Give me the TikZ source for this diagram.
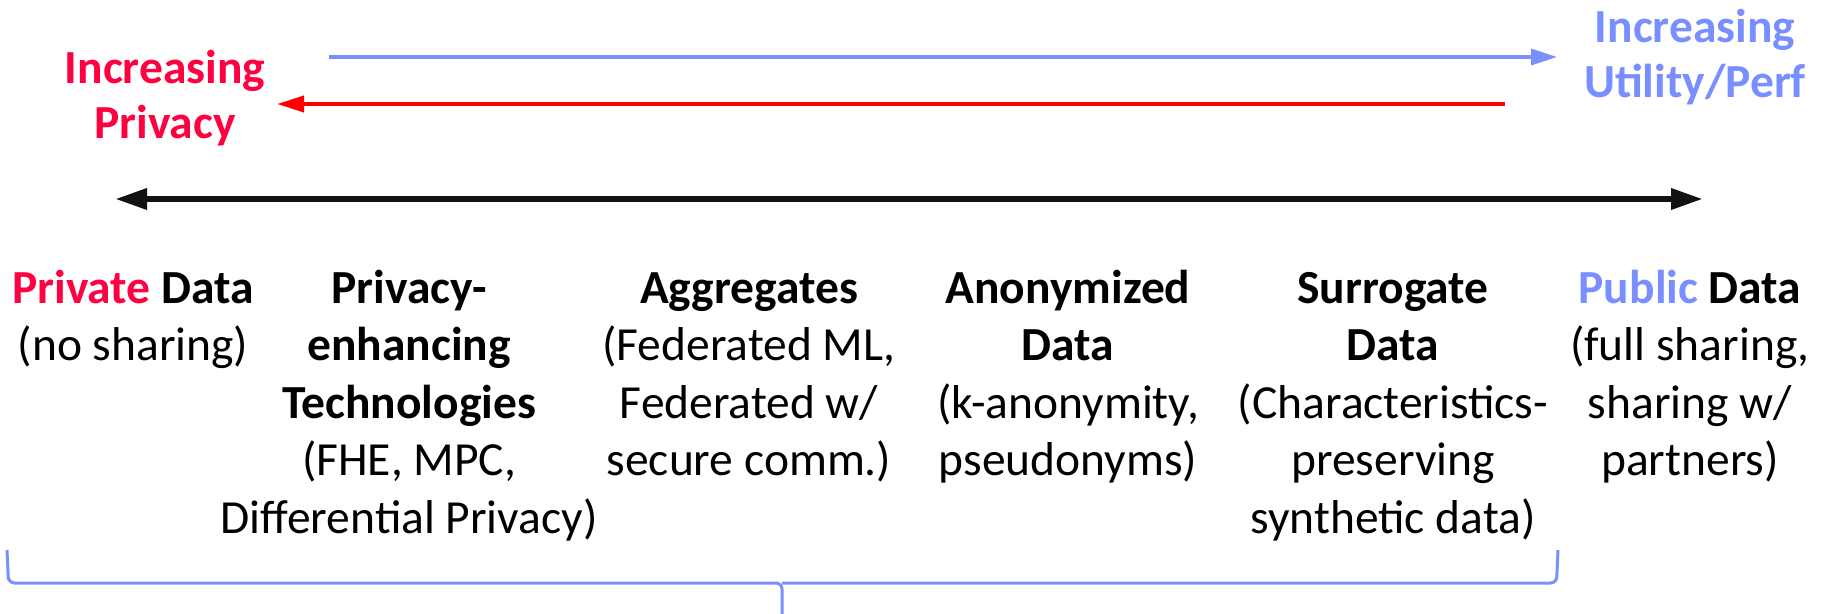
\documentclass[tikz,border=0pt]{standalone}
\usepackage{fontspec}
\setmainfont{Carlito}
\usetikzlibrary{arrows.meta}
\definecolor{privred}{RGB}{255,0,64}
\definecolor{utilblue}{RGB}{122,143,255}
\definecolor{arrred}{RGB}{255,0,0}
\begin{document}
\begin{tikzpicture}[x=1pt,y=-1pt,
  txt/.style={font=\fontsize{47.5}{57.5}\selectfont, align=center, inner sep=0pt, anchor=north},
  hd/.style={font=\fontsize{47.5}{55}\selectfont\bfseries, align=center, inner sep=0pt, anchor=north},
  utilarrow/.style={utilblue, line width=3.5pt, -{Triangle[length=26pt,width=16pt]}},
  privarrow/.style={arrred, line width=4pt, -{Triangle[length=27pt,width=16pt]}},
  spectrum/.style={black!93, line width=6.5pt, {Triangle[length=32pt,width=20pt]}-{Triangle[length=32pt,width=20pt]}},
  bracepath/.style={utilblue, line width=3pt, rounded corners=6pt}
]
\useasboundingbox (0,0) rectangle (1835,613);

% direction labels (first baselines at 83 and 42)
\node[hd, text=privred] (privlbl) at (165,44.5) {\strut Increasing\\Privacy};
\node[hd, text=utilblue] (utillbl) at (1695,3.5) {\strut Increasing\\Utility/Perf};

% direction arrows
\coordinate (us) at (329,57);  \coordinate (ue) at (1557,57);
\coordinate (ps) at (1505,104); \coordinate (pe) at (277,104);
\coordinate (sl) at (115,199); \coordinate (sr) at (1703,199);
\draw[utilarrow] (us) -- (ue);
\draw[privarrow] (ps) -- (pe);
\draw[spectrum] (sl) -- (sr);

% categories along the spectrum (first baseline at 303)
\node[txt] (priv) at (133,262.75) {\strut\textbf{\color{privred}Private}\textbf{ Data}\\(no sharing)};
\node[txt] (pet) at (409,262.75) {\strut\textbf{Privacy-}\\\textbf{enhancing}\\\textbf{Technologies}\\(FHE, MPC,\\Differential Privacy)};
\node[txt] (agg) at (749,262.75) {\strut\textbf{Aggregates}\\(Federated ML,\\Federated w/\\secure comm.)};
\node[txt] (anon) at (1068,262.75) {\strut\textbf{Anonymized}\\\textbf{Data}\\(k-anonymity,\\pseudonyms)};
\node[txt] (surr) at (1393,262.75) {\strut\textbf{Surrogate}\\\textbf{Data}\\(Characteristics-\\preserving\\synthetic data)};
\node[txt] (pub) at (1690,262.75) {\strut\textbf{\color{utilblue}Public}\textbf{ Data}\\(full sharing,\\sharing w/\\partners)};

% brace under the first five categories
\coordinate (bl) at (7,550); \coordinate (br) at (1558,550);
\coordinate (bt) at (782,614);
\draw[bracepath] (bl) -- (8.5,583) -- (782,583) -- (bt);
\draw[bracepath] (br) -- (1556.5,583) -- (782,583);
\end{tikzpicture}
\end{document}
